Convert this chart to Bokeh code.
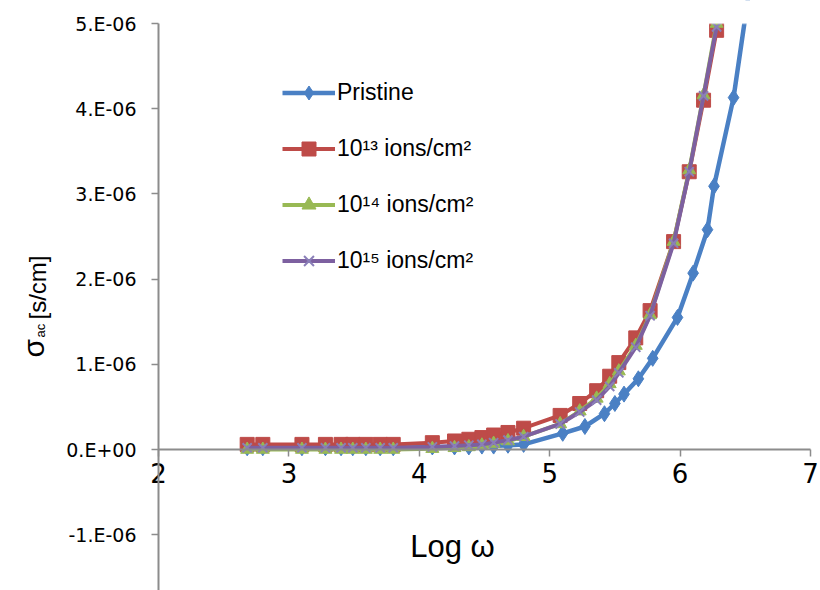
import numpy as np
from bokeh.plotting import figure
from bokeh.models import (FixedTicker, Label, Legend, LegendItem, Range1d,
                          CustomJSTickFormatter, BoxAnnotation)
from bokeh.embed import file_html
from bokeh.resources import INLINE

# ---------------- data ----------------
log_w_pristine = [2.68, 2.80, 3.10, 3.28, 3.40, 3.49, 3.59, 3.70, 3.80, 4.10, 4.27, 4.38,
                  4.48, 4.57, 4.68, 4.80, 5.10, 5.27, 5.42, 5.50, 5.57, 5.68, 5.79, 5.98,
                  6.10, 6.21, 6.26, 6.41, 6.55]
sigma_pristine = [0.02e-6, 0.02e-6, 0.02e-6, 0.02e-6, 0.02e-6, 0.02e-6, 0.02e-6, 0.02e-6,
                  0.02e-6, 0.03e-6, 0.03e-6, 0.03e-6, 0.04e-6, 0.04e-6, 0.05e-6, 0.06e-6,
                  0.19e-6, 0.27e-6, 0.42e-6, 0.54e-6, 0.65e-6, 0.83e-6, 1.07e-6, 1.55e-6,
                  2.07e-6, 2.58e-6, 3.09e-6, 4.13e-6, 5.60e-6]

log_w_irr = [2.68, 2.80, 3.10, 3.28, 3.40, 3.49, 3.59, 3.70, 3.80, 4.10, 4.27, 4.38,
             4.48, 4.57, 4.68, 4.80, 5.08, 5.23, 5.36, 5.46, 5.53, 5.66, 5.77, 5.95,
             6.07, 6.18, 6.28]
sigma_1e13 = [0.06e-6, 0.06e-6, 0.06e-6, 0.06e-6, 0.06e-6, 0.06e-6, 0.06e-6, 0.06e-6,
              0.06e-6, 0.08e-6, 0.10e-6, 0.12e-6, 0.14e-6, 0.17e-6, 0.20e-6, 0.25e-6,
              0.40e-6, 0.54e-6, 0.69e-6, 0.86e-6, 1.02e-6, 1.31e-6, 1.63e-6, 2.44e-6,
              3.26e-6, 4.10e-6, 4.92e-6]
sigma_1e14 = [0.00e-6, 0.00e-6, 0.00e-6, 0.00e-6, 0.00e-6, 0.00e-6, 0.00e-6, 0.00e-6,
              0.00e-6, 0.01e-6, 0.02e-6, 0.03e-6, 0.05e-6, 0.07e-6, 0.10e-6, 0.15e-6,
              0.30e-6, 0.45e-6, 0.60e-6, 0.77e-6, 0.92e-6, 1.22e-6, 1.58e-6, 2.44e-6,
              3.28e-6, 4.16e-6, 5.00e-6]
sigma_1e15 = [0.02e-6, 0.02e-6, 0.02e-6, 0.02e-6, 0.02e-6, 0.02e-6, 0.02e-6, 0.02e-6,
              0.02e-6, 0.03e-6, 0.04e-6, 0.05e-6, 0.06e-6, 0.08e-6, 0.11e-6, 0.15e-6,
              0.30e-6, 0.44e-6, 0.58e-6, 0.74e-6, 0.90e-6, 1.20e-6, 1.57e-6, 2.42e-6,
              3.26e-6, 4.15e-6, 4.96e-6]

series_labels = ["Pristine", "10\u00b9\u00b3 ions/cm\u00b2", "10\u00b9\u2074 ions/cm\u00b2",
                 "10\u00b9\u2075 ions/cm\u00b2"]
x_ticks = [2, 3, 4, 5, 6, 7]
y_ticks = [-1e-6, 0.0, 1e-6, 2e-6, 3e-6, 4e-6, 5e-6]
x_min, x_max = 2.0, 7.0
y_min_axis, y_max_axis = -1.655e-6, 5.0e-6

# ---------------- geometry (pixels of the 820x590 canvas) ----------------
W, H = 820, 590
AX_X_PX = 158          # where x = 2 sits
PX_PER_X = 130.4
AX_Y0_PX = 449         # where sigma = 0 sits
PX_PER_Y = 85.2e6


def dx(px):
    return x_min + (px - AX_X_PX) / PX_PER_X


def dy(py):
    return (AX_Y0_PX - py) / PX_PER_Y


p = figure(width=W, height=H, output_backend="svg", toolbar_location=None,
           x_range=Range1d(dx(0), dx(W)), y_range=Range1d(dy(H), dy(0)),
           min_border_left=0, min_border_right=0, min_border_top=0,
           min_border_bottom=0)
p.outline_line_color = None
p.xgrid.visible = False
p.ygrid.visible = False
p.background_fill_color = "white"
p.border_fill_color = "white"

axis_grey = "#8c8c8c"

# y axis (crossing x = 2)
ya = p.yaxis[0]
ya.fixed_location = x_min
ya.bounds = (y_min_axis, y_max_axis)
ya.ticker = FixedTicker(ticks=y_ticks)
ya.formatter = CustomJSTickFormatter(code="""
    const s = tick.toExponential(0);
    const parts = s.split('e');
    const sign = parts[1][0];
    let d = parts[1].slice(1);
    if (d.length < 2) { d = '0' + d; }
    return parts[0] + '.E' + sign + d;
""")
ya.axis_line_color = axis_grey
ya.axis_line_width = 2
ya.major_tick_line_color = axis_grey
ya.major_tick_line_width = 1.5
ya.major_tick_out = 7
ya.major_tick_in = 0
ya.minor_tick_line_color = None
ya.major_label_text_font = "DejaVu Sans"
ya.major_label_text_font_size = "19px"
ya.major_label_text_color = "black"
ya.major_label_standoff = 15

# x axis (crossing y = 0)
xa = p.xaxis[0]
xa.fixed_location = 0
xa.bounds = (x_min, x_max)
xa.ticker = FixedTicker(ticks=x_ticks)
xa.axis_line_color = axis_grey
xa.axis_line_width = 2
xa.major_tick_line_color = axis_grey
xa.major_tick_line_width = 1.5
xa.major_tick_out = 7
xa.major_tick_in = 0
xa.minor_tick_line_color = None
xa.major_label_text_font = "DejaVu Sans"
xa.major_label_text_font_size = "26px"
xa.major_label_text_color = "black"
xa.major_label_standoff = 6

# ---------------- series ----------------
blue = "#4a80c4"
red = "#be4b48"
green = "#98b954"
purple = "#7d60a0"

l0 = p.line(log_w_pristine, sigma_pristine, line_color=blue, line_width=4.5)
m0 = p.scatter(log_w_pristine, sigma_pristine, marker="diamond", size=16,
               fill_color=blue, line_color=blue)
l1 = p.line(log_w_irr, sigma_1e13, line_color=red, line_width=4)
m1 = p.scatter(log_w_irr, sigma_1e13, marker="square", size=14,
               fill_color=red, line_color=red)
l2 = p.line(log_w_irr, sigma_1e14, line_color=green, line_width=4)
m2 = p.scatter(log_w_irr, sigma_1e14, marker="triangle", size=13,
               fill_color=green, line_color=green)
l3 = p.line(log_w_irr, sigma_1e15, line_color=purple, line_width=4)
m3 = p.scatter(log_w_irr, sigma_1e15, marker="x", size=13,
               line_color="#8a7fb8", line_width=2)

# plot area ends at the 5.E-06 gridline: hide what runs above it
p.add_layout(BoxAnnotation(left=x_min + 0.05, bottom=y_max_axis, top=dy(-30),
                           right=dx(W + 30), fill_color="white",
                           fill_alpha=1.0, line_color="white", line_width=2,
                           level="overlay"))

legend = Legend(items=[
    LegendItem(label=series_labels[0], renderers=[l0, m0]),
    LegendItem(label=series_labels[1], renderers=[l1, m1]),
    LegendItem(label=series_labels[2], renderers=[l2, m2]),
    LegendItem(label=series_labels[3], renderers=[l3, m3]),
], location=(282, H - 278))
legend.border_line_color = None
legend.background_fill_alpha = 0
legend.padding = 0
legend.margin = 0
legend.spacing = 21
legend.glyph_width = 53
legend.glyph_height = 35
legend.label_height = 35
legend.label_standoff = 2
legend.label_text_font = "Liberation Sans"
legend.label_text_font_size = "23px"
legend.label_text_color = "black"
p.add_layout(legend, "center")

# ---------------- axis titles ----------------
p.add_layout(Label(x=dx(452), y=dy(546), text="Log \u03c9", text_align="center",
                   text_baseline="middle", text_font="Liberation Sans",
                   text_font_size="31px", text_color="black"))

p.add_layout(Label(x=dx(33), y=dy(357), text="\u03c3", angle=np.pi / 2,
                   text_align="left", text_baseline="alphabetic",
                   text_font="Liberation Sans", text_font_size="30px", text_color="black"))
p.add_layout(Label(x=dx(40), y=dy(337), text="ac", angle=np.pi / 2,
                   text_align="left", text_baseline="alphabetic",
                   text_font="Liberation Sans", text_font_size="13px", text_color="black"))
p.add_layout(Label(x=dx(37), y=dy(319), text="[s/cm]", angle=np.pi / 2,
                   text_align="left", text_baseline="alphabetic",
                   text_font="Liberation Sans", text_font_size="24px", text_color="black"))

open("out.html", "w").write(file_html(p, INLINE))
